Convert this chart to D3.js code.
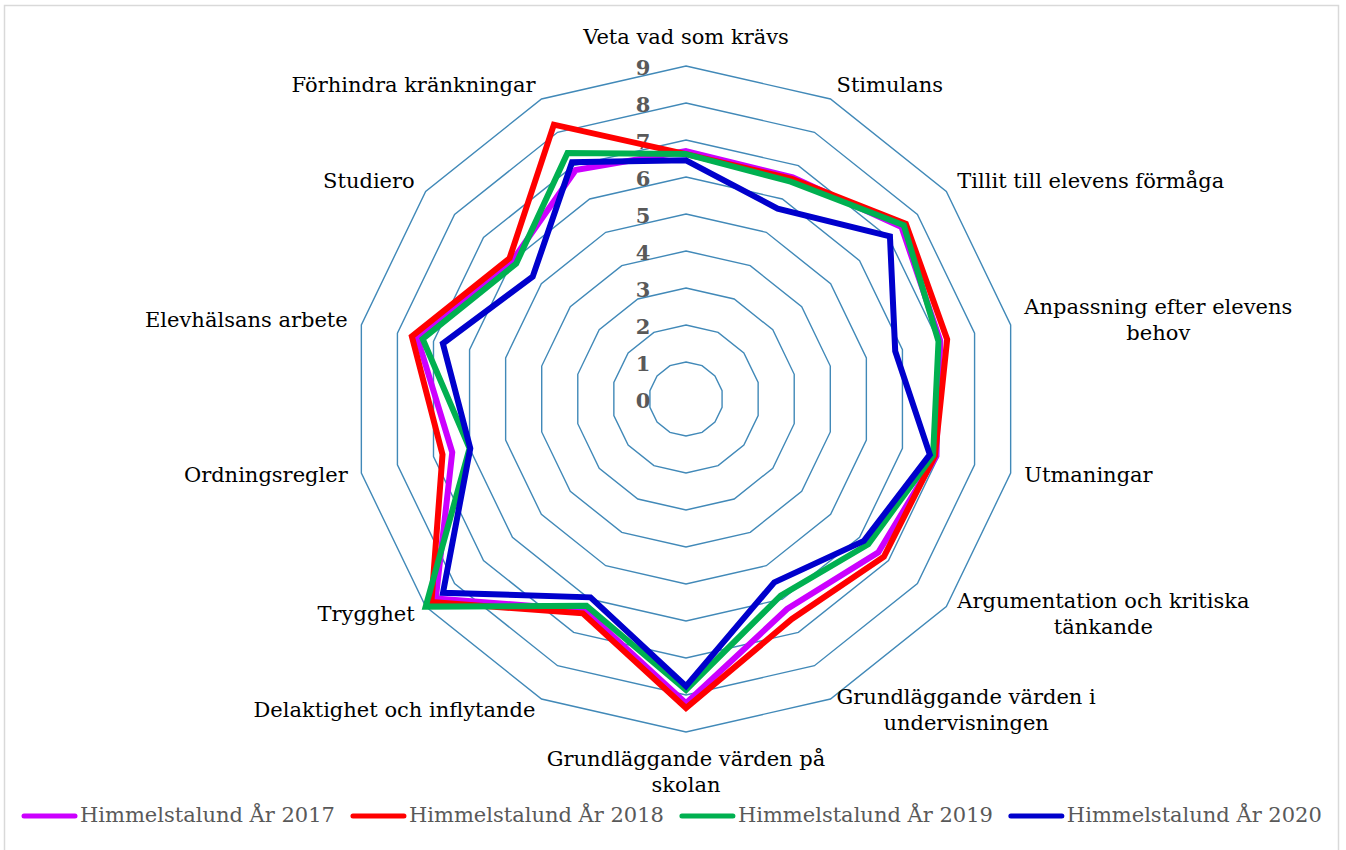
<!DOCTYPE html>
<html>
<head>
<meta charset="utf-8">
<script src="https://cdn.jsdelivr.net/npm/d3@7"></script>
<style>
  body { margin: 0; background: #fff; }
  svg text { font-family: "DejaVu Serif", Georgia, serif; }
</style>
</head>
<body>
<div id="radar-chart"></div>
<script>
// Categories clockwise from the top, "\n" marks where the label wraps
var CATEGORIES = [
  "Veta vad som krävs",
  "Stimulans",
  "Tillit till elevens förmåga",
  "Anpassning efter elevens\nbehov",
  "Utmaningar",
  "Argumentation och kritiska\ntänkande",
  "Grundläggande värden i\nundervisningen",
  "Grundläggande värden på\nskolan",
  "Delaktighet och inflytande",
  "Trygghet",
  "Ordningsregler",
  "Elevhälsans arbete",
  "Studiero",
  "Förhindra kränkningar"
];

var SERIES_NAMES = [
  "Himmelstalund År 2017",
  "Himmelstalund År 2018",
  "Himmelstalund År 2019",
  "Himmelstalund År 2020"
];

var VALUES_2017 = [6.70, 6.65, 7.45, 7.05, 6.94, 6.65, 6.30, 8.22, 6.33, 8.65, 6.48, 7.45, 6.00, 6.87];
var VALUES_2018 = [6.62, 6.60, 7.60, 7.24, 6.90, 6.84, 6.60, 8.35, 6.43, 8.80, 6.75, 7.60, 6.10, 8.23];
var VALUES_2019 = [6.62, 6.52, 7.53, 7.00, 6.85, 6.30, 5.90, 7.86, 6.20, 9.00, 6.00, 7.30, 5.87, 7.38];
var VALUES_2020 = [6.45, 5.71, 7.05, 5.80, 6.76, 6.15, 5.50, 7.76, 5.95, 8.40, 5.98, 6.74, 5.30, 7.10];

var TICKS = [0, 1, 2, 3, 4, 5, 6, 7, 8, 9];

var COLORS = ["#cc00ff", "#ff0000", "#00b050", "#0000cc"];

var renderRadar = function() {
  var width = 1346;
  var height = 850;
  var cx = 686;
  var cy = 399;
  var radius = 333;
  var n = CATEGORIES.length;
  var fontSize = 21;

  var data = [VALUES_2017, VALUES_2018, VALUES_2019, VALUES_2020].map(function(values, i) {
    return { name: SERIES_NAMES[i], values: values };
  });

  var rScale = d3.scaleLinear().domain([0, 9]).range([0, radius]);
  var angle = function(i) { return (i * 2 * Math.PI) / n; };

  var svg = d3.select("#radar-chart")
    .append("svg")
    .attr("width", width)
    .attr("height", height);

  // chart frame
  svg.append("rect")
    .attr("x", 4.5)
    .attr("y", 5.5)
    .attr("width", 1334)
    .attr("height", 880)
    .attr("fill", "none")
    .attr("stroke", "#d9d9d9")
    .attr("stroke-width", 1.5);

  var chart = svg.append("g")
    .attr("transform", "translate(" + cx + "," + cy + ")");

  // grid polygons
  var gridLine = d3.lineRadial()
    .angle(function(d, i) { return angle(i); })
    .radius(function(d) { return rScale(d); })
    .curve(d3.curveLinearClosed);

  chart.append("g")
    .attr("class", "grid")
    .selectAll("path")
    .data(TICKS.filter(function(t) { return t > 0; }))
    .enter()
    .append("path")
    .attr("d", function(t) { return gridLine(CATEGORIES.map(function() { return t; })); })
    .attr("fill", "none")
    .attr("stroke", "#4189b8")
    .attr("stroke-width", 1.4);

  // tick labels
  chart.append("g")
    .attr("class", "ticks")
    .selectAll("text")
    .data(TICKS)
    .enter()
    .append("text")
    .attr("x", -43)
    .attr("y", function(t) { return -rScale(t) + 3; })
    .attr("text-anchor", "middle")
    .attr("dominant-baseline", "middle")
    .attr("font-size", 21)
    .attr("font-weight", "bold")
    .attr("fill", "#595959")
    .text(function(t) { return t; });

  // series lines
  var seriesLine = d3.lineRadial()
    .angle(function(d, i) { return angle(i); })
    .radius(function(d) { return rScale(d); })
    .curve(d3.curveLinearClosed);

  chart.append("g")
    .attr("class", "lines")
    .selectAll("path")
    .data(data)
    .enter()
    .append("path")
    .attr("d", function(d) { return seriesLine(d.values); })
    .attr("fill", "none")
    .attr("stroke", function(d, i) { return COLORS[i]; })
    .attr("stroke-width", 6)
    .attr("stroke-linejoin", "miter");

  // category labels
  var lineHeight = 26;
  var labels = chart.append("g").attr("class", "labels");

  CATEGORIES.forEach(function(cat, i) {
    var a = angle(i);
    var s = Math.sin(a);
    var c = Math.cos(a);
    var vx = rScale(9) * s;
    var vy = -rScale(9) * c;
    var lines = cat.split("\n");

    var texts = labels.append("g")
      .selectAll("text")
      .data(lines)
      .enter()
      .append("text")
      .attr("text-anchor", "middle")
      .attr("dominant-baseline", "middle")
      .attr("font-size", fontSize)
      .attr("fill", "#000")
      .text(function(d) { return d; });

    var blockWidth = d3.max(texts.nodes(), function(node) { return node.getComputedTextLength(); });
    var x, yTop;
    if (Math.abs(s) < 0.01) {
      x = 0;
      yTop = c > 0 ? vy - 28 - (lines.length - 1) * lineHeight : vy + 28;
    } else {
      var off = 14 * Math.abs(s);
      x = s > 0 ? vx + off + blockWidth / 2 : vx - off - blockWidth / 2;
      yTop = vy - c * 14 - ((lines.length - 1) * lineHeight) / 2;
    }
    texts
      .attr("x", x)
      .attr("y", function(d, k) { return yTop + k * lineHeight; });
  });

  // legend
  var legend = svg.append("g").attr("class", "legend");
  var lx = 22;
  var ly = 816;
  data.forEach(function(d, i) {
    legend.append("line")
      .attr("x1", lx + 2)
      .attr("x2", lx + 53)
      .attr("y1", ly)
      .attr("y2", ly)
      .attr("stroke", COLORS[i])
      .attr("stroke-width", 5)
      .attr("stroke-linecap", "round");
    var t = legend.append("text")
      .attr("x", lx + 58)
      .attr("y", ly)
      .attr("dominant-baseline", "middle")
      .attr("font-size", fontSize)
      .attr("fill", "#595959")
      .text(d.name);
    lx += 58 + t.node().getComputedTextLength() + 16;
  });
};

window.onload = renderRadar;
</script>
</body>
</html>
